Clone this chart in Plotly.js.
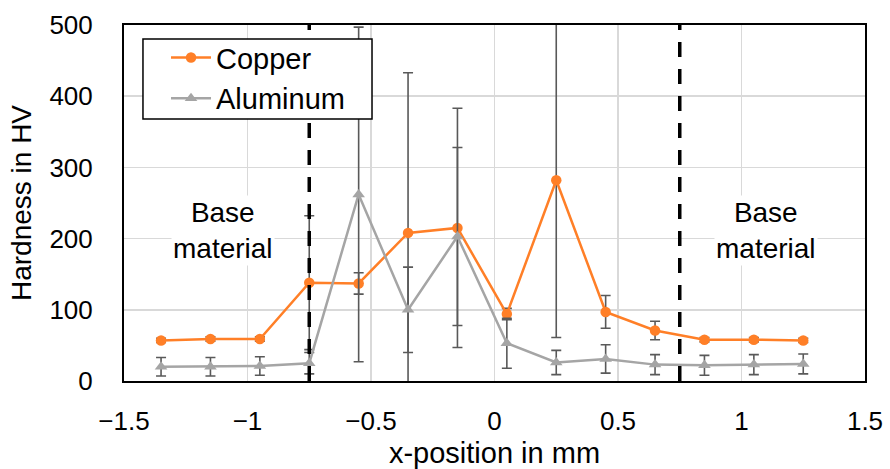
<!DOCTYPE html>
<html>
<head>
<meta charset="utf-8">
<script src="https://cdn.plot.ly/plotly-3.0.1.min.js"></script>
<style>html,body{margin:0;padding:0;background:#fff;}#chart{width:890px;height:469px;}</style>
</head>
<body>
<div id="chart"></div>
<script>
const xPositions = [-1.35, -1.15, -0.95, -0.75, -0.55, -0.35, -0.15, 0.05, 0.25, 0.45, 0.65, 0.85, 1.05, 1.25];
const copperHV = [57, 59, 59, 138, 137, 208, 215, 94, 282, 97, 71, 58, 58, 57];
const copperErr = [3, 3, 3, 94, 15, 225, 168, 8, 221, 23, 13, 3, 3, 3];
const aluminumHV = [20, 20, 21, 25, 262, 100, 203, 53, 26, 31, 23, 22, 23, 24];
const aluminumErr = [13, 13, 13, 15, 235, 60, 125, 35, 17, 20, 14, 14, 14, 14];
const boundaries = [-0.75, 0.75];
const regionLabels = [{x: -1.1, text: "Base<br>material"}, {x: 1.1, text: "Base<br>material"}];

const font = "Liberation Sans, Arial, sans-serif";
const errStyle = {type: "data", visible: true, color: "#595959", thickness: 1.6, width: 5};

const traces = [
  {
    x: xPositions, y: copperHV, name: "Copper", type: "scatter", mode: "lines+markers",
    line: {color: "#FF7F27", width: 2.5},
    marker: {symbol: "circle", size: 10.5, color: "#FF7F27"},
    error_y: Object.assign({array: copperErr}, errStyle)
  },
  {
    x: xPositions, y: aluminumHV, name: "Aluminum", type: "scatter", mode: "lines+markers",
    line: {color: "#A5A5A5", width: 2.5},
    marker: {symbol: "triangle-up", size: 11, color: "#A5A5A5"},
    error_y: Object.assign({array: aluminumErr}, errStyle)
  }
];

const shapes = boundaries.map(b => ({
  type: "line", xref: "x", yref: "paper", x0: b, x1: b, y0: 0, y1: 1,
  line: {color: "#000", width: 3.5, dash: "15px,12px"}, layer: "above"
}));
// legend frame (white box above the plot, legend entries drawn on top)
shapes.push({
  type: "rect", xref: "paper", yref: "paper", x0: 0.0256, x1: 0.3347, y0: 0.736, y1: 0.9607,
  line: {color: "#000", width: 1.5}, fillcolor: "#fff", layer: "above"
});

const annotations = regionLabels.map(r => ({
  x: r.x, y: 212, xref: "x", yref: "y", text: r.text, showarrow: false,
  font: {family: font, size: 28, color: "#000"}, bgcolor: "#fff", align: "center"
}));

const layout = {
  width: 890, height: 469,
  margin: {l: 124, r: 25, t: 25, b: 88},
  paper_bgcolor: "#fff", plot_bgcolor: "#fff",
  font: {family: font, color: "#000"},
  showlegend: true,
  legend: {
    x: 0.0567, y: 0.980, xanchor: "left", yanchor: "top",
    bgcolor: "rgba(0,0,0,0)", borderwidth: 0,
    font: {family: font, size: 29, color: "#000"}, itemwidth: 40
  },
  xaxis: {
    range: [-1.5, 1.5], dtick: 0.5, tick0: -1.5, showgrid: true, gridcolor: "#D9D9D9", gridwidth: 1.5,
    zeroline: false, showline: true, linecolor: "#000", linewidth: 2, mirror: true,
    ticks: "", ticklabelstandoff: 16,
    tickfont: {family: font, size: 26, color: "#000"},
    title: {text: "x-position in mm", font: {family: font, size: 29, color: "#000"}, standoff: 9}
  },
  yaxis: {
    range: [0, 500], dtick: 100, showgrid: true, gridcolor: "#D9D9D9", gridwidth: 1.5,
    zeroline: false, showline: true, linecolor: "#000", linewidth: 2, mirror: true,
    ticks: "", ticklabelstandoff: 24,
    tickfont: {family: font, size: 26, color: "#000"},
    title: {text: "Hardness in HV", font: {family: font, size: 28, color: "#000"}, standoff: 10}
  },
  shapes: shapes,
  annotations: annotations
};

Plotly.newPlot("chart", traces, layout, {displayModeBar: false, staticPlot: true});
</script>
</body>
</html>
